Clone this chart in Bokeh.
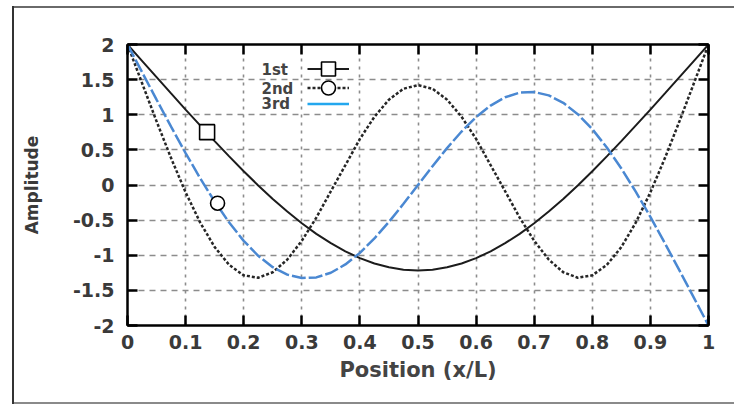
from bokeh.plotting import figure
from bokeh.models import (LinearAxis, FixedTicker, CustomJSTickFormatter, Legend, LegendItem,
                          Label, Range1d)
from bokeh.core.properties import value
from bokeh.embed import file_html
from bokeh.resources import INLINE

# ---------------- data ----------------
x_pos = [0.0, 0.025, 0.05, 0.075, 0.1, 0.125, 0.15, 0.175, 0.2, 0.225,
         0.25, 0.275, 0.3, 0.325, 0.35, 0.375, 0.4, 0.425, 0.45, 0.475,
         0.5, 0.525, 0.55, 0.575, 0.6, 0.625, 0.65, 0.675, 0.7, 0.725,
         0.75, 0.775, 0.8, 0.825, 0.85, 0.875, 0.9, 0.925, 0.95, 0.975, 1.0]

# solid black curve ("1st")
amp_1st = [2.000, 1.768, 1.536, 1.304, 1.074, 0.848, 0.624, 0.407, 0.196, -0.006,
           -0.199, -0.378, -0.544, -0.695, -0.828, -0.944, -1.041, -1.117, -1.172, -1.205,
           -1.216, -1.205, -1.172, -1.117, -1.041, -0.944, -0.828, -0.695, -0.544, -0.378,
           -0.199, -0.006, 0.196, 0.407, 0.624, 0.848, 1.074, 1.304, 1.536, 1.768, 2.000]

# dotted black curve ("2nd")
amp_2nd = [2.000, 1.451, 0.907, 0.383, -0.105, -0.533, -0.883, -1.138, -1.286, -1.320,
           -1.242, -1.062, -0.794, -0.465, -0.089, 0.282, 0.656, 0.971, 1.215, 1.370,
           1.422, 1.370, 1.215, 0.971, 0.656, 0.282, -0.089, -0.465, -0.794, -1.062,
           -1.242, -1.320, -1.286, -1.138, -0.883, -0.533, -0.105, 0.383, 0.907, 1.451, 2.000]

# blue dashed curve ("3rd")
amp_3rd = [2.000, 1.607, 1.216, 0.830, 0.455, 0.097, -0.235, -0.535, -0.795, -1.008,
           -1.170, -1.276, -1.324, -1.315, -1.249, -1.131, -0.966, -0.761, -0.525, -0.268,
           0.000, 0.268, 0.525, 0.761, 0.966, 1.131, 1.249, 1.315, 1.324, 1.276,
           1.170, 1.008, 0.795, 0.535, 0.235, -0.097, -0.455, -0.830, -1.216, -1.607, -2.000]

# single markers seen on the curves
square_x = [0.137]
square_y = [0.752]
circle_x = [0.155]
circle_y = [-0.259]

x_ticks = [0.0, 0.1, 0.2, 0.3, 0.4, 0.5, 0.6, 0.7, 0.8, 0.9, 1.0]
x_tick_labels = ["0", "0.1", "0.2", "0.3", "0.4", "0.5", "0.6", "0.7", "0.8", "0.9", "1"]
y_ticks = [-2.0, -1.5, -1.0, -0.5, 0.0, 0.5, 1.0, 1.5, 2.0]
y_tick_labels = ["-2", "-1.5", "-1", "-0.5", "0", "0.5", "1", "1.5", "2"]

legend_labels = ["1st", "2nd", "3rd"]
x_title = "Position (x/L)"
y_title = "Amplitude"

# ---------------- figure ----------------
FONT = "DejaVu Sans"
TXT = "#3a3a3a"

# outer picture frame drawn as CSS background lines behind a transparent border area
frame_css = {
    "background-color": "white",
    "background-image": ("linear-gradient(#333333,#333333), linear-gradient(#6a6a6a,#6a6a6a), "
                         "linear-gradient(#8a8a8a,#8a8a8a)"),
    "background-size": "2px 398px, 722px 2px, 722px 2px",
    "background-position": "12px 6px, 12px 6px, 12px 402px",
    "background-repeat": "no-repeat",
}

p = figure(width=734, height=406, output_backend="svg", toolbar_location=None,
           x_range=Range1d(0, 1), y_range=Range1d(-2, 2),
           min_border_left=127, min_border_right=26, min_border_top=44, min_border_bottom=81,
           background_fill_color="white", border_fill_color=None, styles=frame_css)
p.outline_line_color = "black"
p.outline_line_width = 2

label_code = """
for (let i = 0; i < tvals.length; i++) {
  if (Math.abs(tick - tvals[i]) < 1e-9) { return tlabels[i]; }
}
return '';
"""
empty_fmt_code = "return '';"


def style_axis(ax, ticks, labels=None):
    ax.ticker = FixedTicker(ticks=ticks)
    if labels is None:
        ax.formatter = CustomJSTickFormatter(code=empty_fmt_code)
    else:
        ax.formatter = CustomJSTickFormatter(args=dict(tvals=ticks, tlabels=labels), code=label_code)
    ax.axis_line_color = "black"
    ax.axis_line_width = 2
    ax.major_tick_in = 10
    ax.major_tick_out = 0
    ax.major_tick_line_color = "black"
    ax.major_tick_line_width = 2.5
    ax.minor_tick_line_color = None
    ax.major_label_text_font = FONT
    ax.major_label_text_font_style = "bold"
    ax.major_label_text_font_size = "19px"
    ax.major_label_text_color = TXT


xa = p.xaxis[0]
ya = p.yaxis[0]
style_axis(xa, x_ticks, x_tick_labels)
style_axis(ya, y_ticks, y_tick_labels)
xa.major_label_standoff = 9
ya.major_label_standoff = 13

xa.axis_label = x_title
xa.axis_label_text_font = FONT
xa.axis_label_text_font_style = "bold"
xa.axis_label_text_font_size = "21px"
xa.axis_label_text_color = "#444444"
xa.axis_label_standoff = 6

ya.axis_label = y_title
ya.axis_label_text_font = FONT
ya.axis_label_text_font_style = "bold"
ya.axis_label_text_font_size = "17px"
ya.axis_label_text_color = TXT
ya.axis_label_standoff = 28

top_ax = LinearAxis()
style_axis(top_ax, x_ticks)
p.add_layout(top_ax, "above")
right_ax = LinearAxis()
style_axis(right_ax, y_ticks)
p.add_layout(right_ax, "right")

p.xgrid.ticker = FixedTicker(ticks=x_ticks)
p.ygrid.ticker = FixedTicker(ticks=y_ticks)
p.xgrid.grid_line_color = "#8c8c8c"
p.xgrid.grid_line_width = 1.6
p.xgrid.grid_line_dash = "3 5"
p.ygrid.grid_line_color = "#8c8c8c"
p.ygrid.grid_line_width = 1.6
p.ygrid.grid_line_dash = "6 5"

# ---------------- curves ----------------
r1 = p.line(x_pos, amp_1st, line_color="#1c1c1c", line_width=2)
r2 = p.line(x_pos, amp_2nd, line_color="#262626", line_width=2.5, line_dash="3 2")
r3 = p.line(x_pos, amp_3rd, line_color="#4a88d2", line_width=2.5, line_dash="14 3")

rs = p.scatter(square_x, square_y, marker="square", size=15, fill_color="white",
               line_color="black", line_width=1.6)
rc = p.scatter(circle_x, circle_y, marker="circle", size=14, fill_color="white",
               line_color="black", line_width=1.6)

# sample-only renderer for the legend's 3rd entry (solid light blue); no drawable data
nan = float("nan")
r3_leg = p.line(x=[nan, nan], y=[nan, nan], line_color="#23a7ee", line_width=2.5)

# ---------------- legend ----------------
legend_sets = [[r1, rs], [r2, rc], [r3_leg]]
legend_vy = [239, 220, 204]
legend_text_y = [256, 237, 222]
for renders, vy, ty, txt in zip(legend_sets, legend_vy, legend_text_y, legend_labels):
    lg = Legend(items=[LegendItem(label=value(""), renderers=renders)],
                location=(180, vy), glyph_width=42, glyph_height=35,
                label_height=35, label_width=0, label_standoff=0,
                padding=0, margin=0, spacing=0,
                border_line_color=None, background_fill_alpha=0)
    p.add_layout(lg)
    p.add_layout(Label(x=134, y=ty, x_units="screen", y_units="screen", text=txt,
                       text_align="left", text_baseline="middle",
                       text_font=FONT, text_font_style="bold",
                       text_font_size="15px", text_color="#444444"))

open("out.html", "w").write(file_html(p, INLINE))
